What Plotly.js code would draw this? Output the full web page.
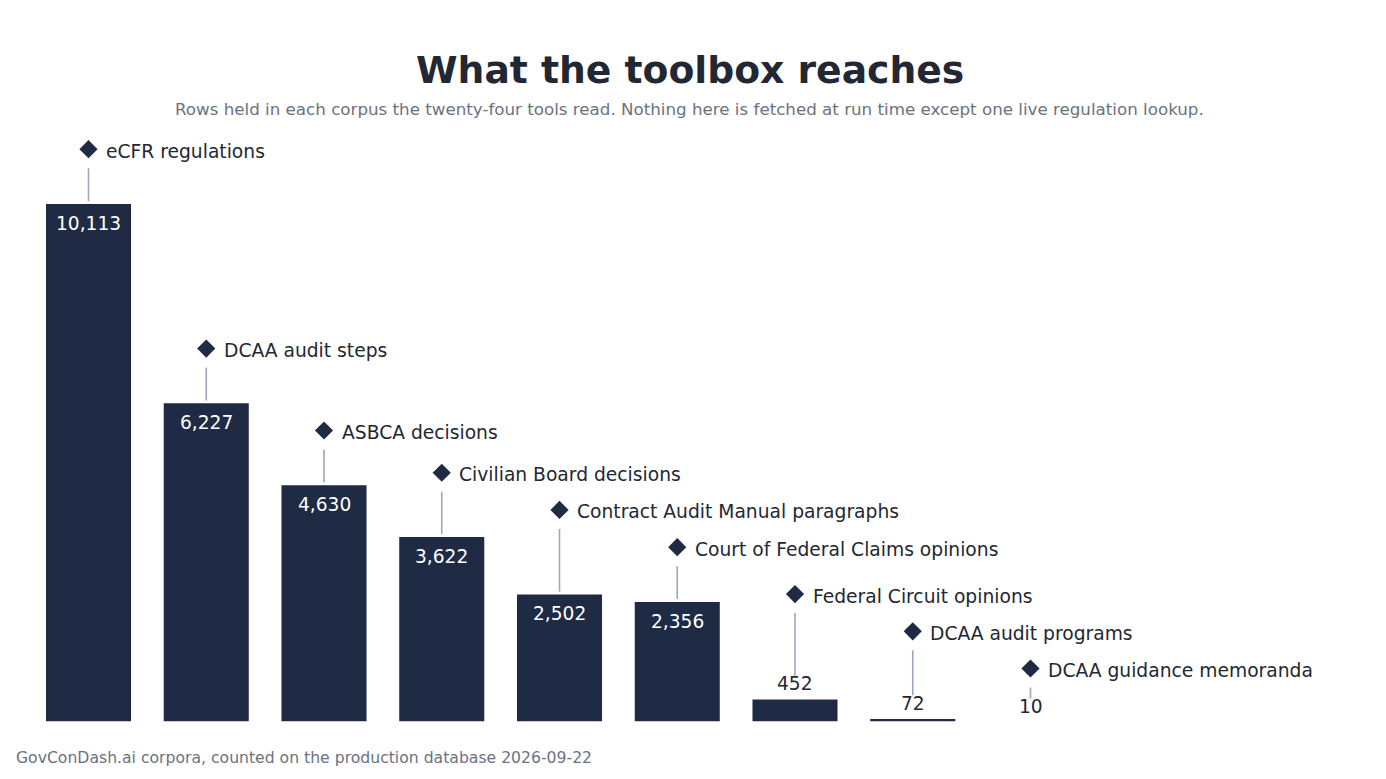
<!DOCTYPE html>
<html>
<head>
<meta charset="utf-8">
<script src="https://cdn.plot.ly/plotly-3.0.1.min.js"></script>
<style>html,body{margin:0;padding:0;background:#fff;}#chart{width:1386px;height:779px;}</style>
</head>
<body>
<div id="chart"></div>
<script>
const categories = ["eCFR regulations","DCAA audit steps","ASBCA decisions","Civilian Board decisions","Contract Audit Manual paragraphs","Court of Federal Claims opinions","Federal Circuit opinions","DCAA audit programs","DCAA guidance memoranda"];
const rowCounts = [10113, 6227, 4630, 3622, 2502, 2356, 452, 72, 10];
const valueLabels = ["10,113","6,227","4,630","3,622","2,502","2,356","452","72","10"];

const W = 1386, H = 779;
const M = {l:0, r:0, t:130, b:57};
const plotH = H - M.t - M.b;
const yMax = 11540;
const pxPerUnit = plotH / yMax;
const xs = categories.map((_, i) => i);
const barColor = '#1f2a44';
const textColor = '#222833';
const lineColor = '#9ca7bd';
const FONT = 'DejaVu Sans, sans-serif';

const topPx = v => v * pxPerUnit; // bar height above baseline in px
const insideMin = 30;             // px height needed to place the value inside
const outsideShift = 15;          // value text centre above bar top for small bars

// label heights (px above baseline), resolved right-to-left to avoid collisions
const labelPx = new Array(rowCounts.length);
for (let i = rowCounts.length - 1; i >= 0; i--) {
  const v = rowCounts[i];
  const inside = topPx(v) >= insideMin;
  let h = inside ? topPx(v) + 54 : topPx(v) + outsideShift + 38;
  if (i < rowCounts.length - 1) h = Math.max(h, labelPx[i+1] + 37.2);
  labelPx[i] = h;
}
const labelY = labelPx.map(p => p / pxPerUnit);

const annotations = [];
const shapes = [];
rowCounts.forEach((v, i) => {
  const inside = topPx(v) >= insideMin;
  annotations.push({
    x: i, y: v, xref: 'x', yref: 'y', text: valueLabels[i], showarrow: false,
    xanchor: 'center', yanchor: 'middle', yshift: inside ? -20 : outsideShift,
    font: {family: FONT, size: 18.6, color: inside ? '#ffffff' : textColor}
  });
  annotations.push({
    x: i, y: labelY[i], xref: 'x', yref: 'y', text: categories[i], showarrow: false,
    xanchor: 'left', yanchor: 'middle', xshift: 15.5, yshift: -2,
    font: {family: FONT, size: 18.7, color: textColor}
  });
  const endPx = inside ? topPx(v) + 2 : topPx(v) + outsideShift + 8;
  shapes.push({
    type: 'line', xref: 'x', yref: 'y', ysizemode: 'pixel', yanchor: labelY[i],
    x0: i, x1: i, y0: -19, y1: -(labelPx[i] - endPx),
    line: {color: lineColor, width: 1.6}
  });
});

annotations.push({
  xref: 'paper', yref: 'paper', x: 689.5 / W, y: (H - M.b - 70) / plotH, text: '<b>What the toolbox reaches</b>',
  showarrow: false, xanchor: 'center', yanchor: 'middle',
  font: {family: FONT, size: 37.7, color: textColor}
});
annotations.push({
  xref: 'paper', yref: 'paper', x: 689.5 / W, y: (H - M.b - 109) / plotH,
  text: 'Rows held in each corpus the twenty-four tools read. Nothing here is fetched at run time except one live regulation lookup.',
  showarrow: false, xanchor: 'center', yanchor: 'middle',
  font: {family: FONT, size: 16.7, color: '#6b7280'}
});
annotations.push({
  xref: 'paper', yref: 'paper', x: 0, xshift: 14, y: (H - M.b - 757) / plotH,
  text: 'GovConDash.ai corpora, counted on the production database 2026-09-22',
  showarrow: false, xanchor: 'left', yanchor: 'middle',
  font: {family: FONT, size: 15.65, color: '#6b7280'}
});

const traces = [
  {type: 'bar', x: xs, y: rowCounts, marker: {color: barColor, line: {color: '#ffffff', width: 1.5}},
   hoverinfo: 'skip', cliponaxis: false},
  {type: 'scatter', mode: 'markers', x: xs, y: labelY, hoverinfo: 'skip', cliponaxis: false,
   marker: {symbol: 'diamond', size: 14, color: barColor}}
];

const pxPerCat = 117.75;
const a = -88.5 / pxPerCat;
const layout = {
  width: W, height: H, margin: M, showlegend: false, bargap: 0.265,
  paper_bgcolor: '#ffffff', plot_bgcolor: '#ffffff',
  xaxis: {range: [a, a + W / pxPerCat], visible: false, fixedrange: true},
  yaxis: {range: [0, yMax], visible: false, fixedrange: true},
  annotations: annotations, shapes: shapes,
  font: {family: FONT}
};
Plotly.newPlot('chart', traces, layout, {displayModeBar: false, staticPlot: true});
</script>
</body>
</html>
